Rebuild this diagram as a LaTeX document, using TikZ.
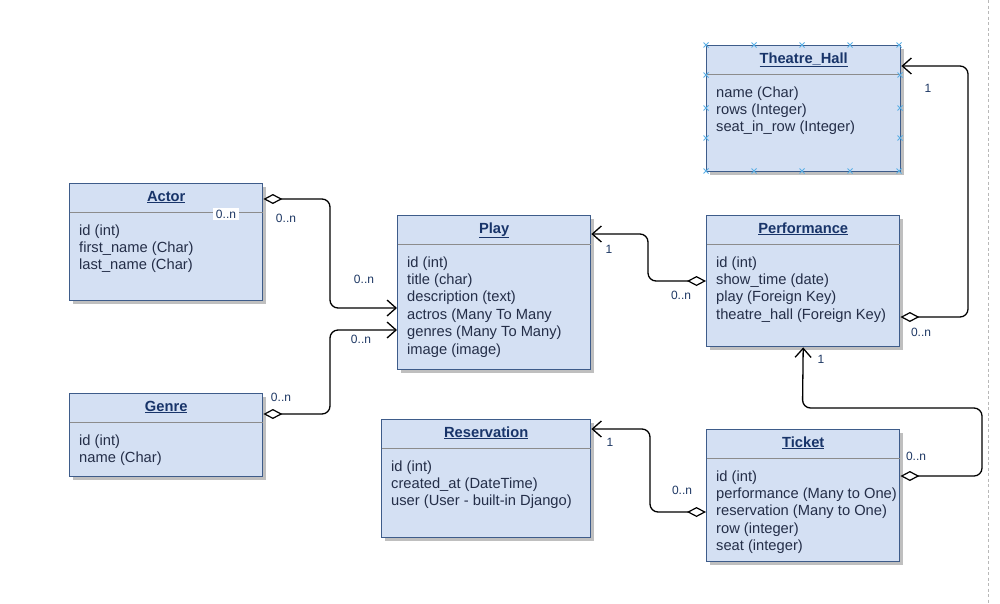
\documentclass[tikz,border=0pt]{standalone}
\usepackage{fontspec}
\setmainfont{Liberation Sans}
\usetikzlibrary{calc,arrows.meta,shadows}
\definecolor{boxfill}{RGB}{212,224,243}
\definecolor{boxdraw}{RGB}{62,92,138}
\definecolor{titlecol}{RGB}{24,52,105}
\definecolor{attrcol}{RGB}{36,46,72}
\definecolor{labcol}{RGB}{30,56,100}
\definecolor{sepcol}{RGB}{140,140,140}
\definecolor{handlecol}{RGB}{90,175,230}
\tikzset{
  cls/.style={draw=boxdraw, line width=1.4pt, fill=boxfill, anchor=north west, inner sep=0pt,
    drop shadow={shadow xshift=3pt, shadow yshift=-3pt, fill=black!25, opacity=1}},
  sepline/.style={draw=sepcol, line width=1pt},
  ttl/.style={anchor=base, inner sep=0pt, text=titlecol, font=\fontsize{14.7}{17.4}\selectfont\bfseries},
  attr/.style={anchor=base west, inner sep=0pt, text=attrcol, font=\fontsize{14.7}{17.4}\selectfont},
  lab/.style={inner sep=0pt, text=labcol, font=\fontsize{12}{14}\selectfont},
  assoc/.style={draw=black, line width=1.3pt, rounded corners=8pt,
    {Diamond[open,length=19pt,width=10pt,line width=1.2pt]}-{Straight Barb[length=9pt,width=16pt,line width=1.3pt]}},
  handle/.style={draw=handlecol, line width=0.8pt},
}
\newcommand\classbox[7]{%
  \node[cls, minimum width=#4pt, minimum height=#5pt] (#1) at (#2,#3) {};
  \draw[sepline] ($(#1.north west)+(0.7,29)$) -- ($(#1.north east)+(-0.7,29)$);
  \node[ttl] (#1-title) at ($(#1.north)+(0,18)$) {\underline{#6}};
  \foreach \t [count=\i] in {#7}
    \node[attr] (#1-a\i) at ($(#1.north west)+(10,{52+(\i-1)*17.4})$) {\t};
}
\begin{document}
\begin{tikzpicture}[x=1pt,y=-1pt]
\useasboundingbox (0,0) rectangle (1000,603);
\fill[white] (0,0) rectangle (1000,603);
\draw[draw=black!28, line width=0.8pt, dash pattern=on 3pt off 2.5pt] (988,0) -- (988,603);

\classbox{actor}{69}{183}{193}{117}{Actor}{id (int),first\_name (Char),last\_name (Char)}
\classbox{genre}{69}{393}{193}{83}{Genre}{id (int),name (Char)}
\classbox{play}{397}{215}{193}{154}{Play}{id (int),title (char),description (text),actros (Many To Many,genres (Many To Many),image (image)}
\classbox{res}{381}{419}{209}{118}{Reservation}{id (int),created\_at (DateTime),user (User - built-in Django)}
\classbox{th}{706}{45}{194}{126}{Theatre\_Hall}{name (Char),rows (Integer),seat\_in\_row (Integer)}
\classbox{perf}{706}{215}{193}{131}{Performance}{id (int),show\_time (date),play (Foreign Key),theatre\_hall (Foreign Key)}
\classbox{ticket}{706}{429}{193}{132}{Ticket}{id (int),performance (Many to One),reservation (Many to One),row (integer),seat (integer)}

% selection handles on Theatre_Hall
\foreach \hx in {706,754,802,850,899} {
  \draw[handle] (\hx-2.5,42.5) -- (\hx+2.5,47.5) (\hx-2.5,47.5) -- (\hx+2.5,42.5);
  \draw[handle] (\hx-2.5,168.5) -- (\hx+2.5,173.5) (\hx-2.5,173.5) -- (\hx+2.5,168.5);
}
\foreach \hy in {75,108,138} {
  \draw[handle] (703.5,\hy-2.5) -- (708.5,\hy+2.5) (703.5,\hy+2.5) -- (708.5,\hy-2.5);
  \draw[handle] (897.5,\hy-2.5) -- (902.5,\hy+2.5) (897.5,\hy+2.5) -- (902.5,\hy-2.5);
}

% connectors
\draw[assoc] ($(actor.north east)+(0,16)$) -- (330,199) -- (330,308) -- ($(play.north west)+(0,93)$);
\draw[assoc] ($(genre.north east)+(0,21)$) -- (330,414) -- (330,330) -- ($(play.north west)+(0,115)$);
\draw[assoc] ($(perf.north west)+(0,66)$) -- (648,281) -- (648,234) -- ($(play.north east)+(0,19)$);
\draw[assoc] ($(perf.north east)+(0,102)$) -- (968,317) -- (968,66) -- ($(th.north east)+(0,21)$);
\draw[assoc] ($(ticket.north east)+(0,47)$) -- (982,476) -- (982,408) -- (802.5,408) -- (perf.south);
\draw[assoc] ($(ticket.north west)+(0,83)$) -- (650,512) -- (650,429) -- ($(res.north east)+(0,10)$);

% multiplicity labels
\node[lab, fill=white, inner xsep=3pt, inner ysep=1.5pt] (l0) at (226,214) {0..n};
\node[lab] (l1) at (286,218) {0..n};
\node[lab] (l2) at (364,279) {0..n};
\node[lab] (l3) at (281,397) {0..n};
\node[lab] (l4) at (361,339) {0..n};
\node[lab] (l5) at (609,249) {1};
\node[lab] (l6) at (681,295) {0..n};
\node[lab] (l7) at (928,88) {1};
\node[lab] (l8) at (921,332) {0..n};
\node[lab] (l9) at (821,359) {1};
\node[lab] (l10) at (916,456) {0..n};
\node[lab] (l11) at (610,442) {1};
\node[lab] (l12) at (682,490) {0..n};
\end{tikzpicture}
\end{document}
